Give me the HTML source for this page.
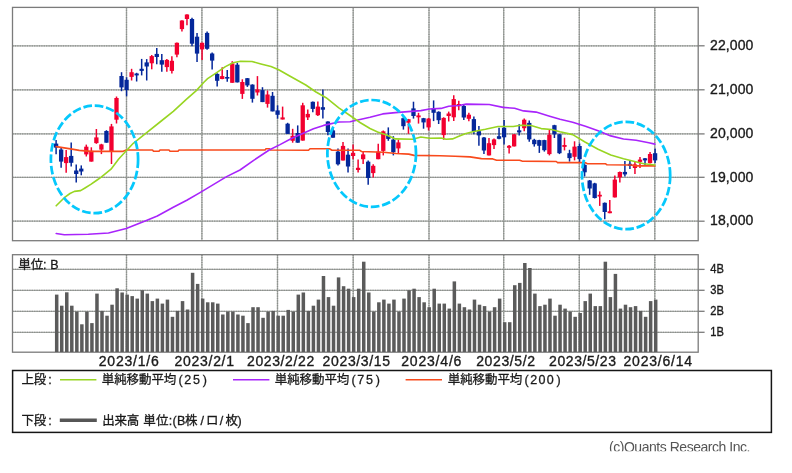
<!DOCTYPE html>
<html lang="ja"><head><meta charset="utf-8"><title>chart</title>
<style>html,body{margin:0;padding:0;background:#fff;overflow:hidden}body{width:792px;height:473px;position:relative}</style></head>
<body>
<svg width="792" height="473" viewBox="0 0 792 473" style="position:absolute;left:0;top:0;display:block;filter:blur(0.3px)">
<rect x="0" y="0" width="792" height="473" fill="#fff"/>
<g stroke="#a6a8a6" stroke-width="1.3" fill="none">
<line x1="12.5" y1="45.8" x2="698.2" y2="45.8"/>
<line x1="12.5" y1="89.8" x2="698.2" y2="89.8"/>
<line x1="12.5" y1="133.9" x2="698.2" y2="133.9"/>
<line x1="12.5" y1="177.3" x2="698.2" y2="177.3"/>
<line x1="12.5" y1="221.2" x2="698.2" y2="221.2"/>
<line x1="12.5" y1="269.4" x2="698.2" y2="269.4"/>
<line x1="12.5" y1="290.3" x2="698.2" y2="290.3"/>
<line x1="12.5" y1="311.3" x2="698.2" y2="311.3"/>
<line x1="12.5" y1="332.3" x2="698.2" y2="332.3"/>
<line x1="126.5" y1="7.4" x2="126.5" y2="240.7"/>
<line x1="126.5" y1="254.7" x2="126.5" y2="352.2"/>
<line x1="201.9" y1="7.4" x2="201.9" y2="240.7"/>
<line x1="201.9" y1="254.7" x2="201.9" y2="352.2"/>
<line x1="277.5" y1="7.4" x2="277.5" y2="240.7"/>
<line x1="277.5" y1="254.7" x2="277.5" y2="352.2"/>
<line x1="353.2" y1="7.4" x2="353.2" y2="240.7"/>
<line x1="353.2" y1="254.7" x2="353.2" y2="352.2"/>
<line x1="429.0" y1="7.4" x2="429.0" y2="240.7"/>
<line x1="429.0" y1="254.7" x2="429.0" y2="352.2"/>
<line x1="503.7" y1="7.4" x2="503.7" y2="240.7"/>
<line x1="503.7" y1="254.7" x2="503.7" y2="352.2"/>
<line x1="579.3" y1="7.4" x2="579.3" y2="240.7"/>
<line x1="579.3" y1="254.7" x2="579.3" y2="352.2"/>
<line x1="654.8" y1="7.4" x2="654.8" y2="240.7"/>
<line x1="654.8" y1="254.7" x2="654.8" y2="352.2"/>
</g>
<g stroke="#8b908b" stroke-width="1.3" fill="none" stroke-dasharray="1.2 1.2">
<line x1="12.5" y1="45.8" x2="698.2" y2="45.8"/>
<line x1="12.5" y1="89.8" x2="698.2" y2="89.8"/>
<line x1="12.5" y1="133.9" x2="698.2" y2="133.9"/>
<line x1="12.5" y1="177.3" x2="698.2" y2="177.3"/>
<line x1="12.5" y1="221.2" x2="698.2" y2="221.2"/>
<line x1="12.5" y1="269.4" x2="698.2" y2="269.4"/>
<line x1="12.5" y1="290.3" x2="698.2" y2="290.3"/>
<line x1="12.5" y1="311.3" x2="698.2" y2="311.3"/>
<line x1="12.5" y1="332.3" x2="698.2" y2="332.3"/>
<line x1="126.5" y1="7.4" x2="126.5" y2="240.7"/>
<line x1="126.5" y1="254.7" x2="126.5" y2="352.2"/>
<line x1="201.9" y1="7.4" x2="201.9" y2="240.7"/>
<line x1="201.9" y1="254.7" x2="201.9" y2="352.2"/>
<line x1="277.5" y1="7.4" x2="277.5" y2="240.7"/>
<line x1="277.5" y1="254.7" x2="277.5" y2="352.2"/>
<line x1="353.2" y1="7.4" x2="353.2" y2="240.7"/>
<line x1="353.2" y1="254.7" x2="353.2" y2="352.2"/>
<line x1="429.0" y1="7.4" x2="429.0" y2="240.7"/>
<line x1="429.0" y1="254.7" x2="429.0" y2="352.2"/>
<line x1="503.7" y1="7.4" x2="503.7" y2="240.7"/>
<line x1="503.7" y1="254.7" x2="503.7" y2="352.2"/>
<line x1="579.3" y1="7.4" x2="579.3" y2="240.7"/>
<line x1="579.3" y1="254.7" x2="579.3" y2="352.2"/>
<line x1="654.8" y1="7.4" x2="654.8" y2="240.7"/>
<line x1="654.8" y1="254.7" x2="654.8" y2="352.2"/>
</g>
<g stroke="#7b7b7b" stroke-width="1.3" fill="none">
<line x1="698.2" y1="45.8" x2="704.6" y2="45.8"/>
<line x1="698.2" y1="89.8" x2="704.6" y2="89.8"/>
<line x1="698.2" y1="133.9" x2="704.6" y2="133.9"/>
<line x1="698.2" y1="177.3" x2="704.6" y2="177.3"/>
<line x1="698.2" y1="221.2" x2="704.6" y2="221.2"/>
<line x1="698.2" y1="269.4" x2="704.6" y2="269.4"/>
<line x1="698.2" y1="290.3" x2="704.6" y2="290.3"/>
<line x1="698.2" y1="311.3" x2="704.6" y2="311.3"/>
<line x1="698.2" y1="332.3" x2="704.6" y2="332.3"/>
<rect x="12.5" y="7.4" width="685.7" height="233.29999999999998"/>
<rect x="12.5" y="254.7" width="685.7" height="97.5"/>
</g>
<g fill="#5b5b5b">
<rect x="54.95" y="294.6" width="3.5" height="57.4"/>
<rect x="59.98" y="305.7" width="3.5" height="46.3"/>
<rect x="65.02" y="292.3" width="3.5" height="59.7"/>
<rect x="70.05" y="305.7" width="3.5" height="46.3"/>
<rect x="75.08" y="311.6" width="3.5" height="40.4"/>
<rect x="80.12" y="324.3" width="3.5" height="27.7"/>
<rect x="85.15" y="311.6" width="3.5" height="40.4"/>
<rect x="90.18" y="323.1" width="3.5" height="28.9"/>
<rect x="95.22" y="293.6" width="3.5" height="58.4"/>
<rect x="100.25" y="310.9" width="3.5" height="41.1"/>
<rect x="105.28" y="315.7" width="3.5" height="36.3"/>
<rect x="110.32" y="304.7" width="3.5" height="47.3"/>
<rect x="115.35" y="288.3" width="3.5" height="63.7"/>
<rect x="120.39" y="292.5" width="3.5" height="59.5"/>
<rect x="125.42" y="294.6" width="3.5" height="57.4"/>
<rect x="130.45" y="296.1" width="3.5" height="55.9"/>
<rect x="135.49" y="298.6" width="3.5" height="53.4"/>
<rect x="140.52" y="290.2" width="3.5" height="61.8"/>
<rect x="145.55" y="293.6" width="3.5" height="58.4"/>
<rect x="150.59" y="301.1" width="3.5" height="50.9"/>
<rect x="155.62" y="298.6" width="3.5" height="53.4"/>
<rect x="160.65" y="303.6" width="3.5" height="48.4"/>
<rect x="165.69" y="299.6" width="3.5" height="52.4"/>
<rect x="170.72" y="316.8" width="3.5" height="35.2"/>
<rect x="175.75" y="310.9" width="3.5" height="41.1"/>
<rect x="180.79" y="301.1" width="3.5" height="50.9"/>
<rect x="185.82" y="309.5" width="3.5" height="42.5"/>
<rect x="190.85" y="272.8" width="3.5" height="79.2"/>
<rect x="195.89" y="283.9" width="3.5" height="68.1"/>
<rect x="200.92" y="298.6" width="3.5" height="53.4"/>
<rect x="205.95" y="302.3" width="3.5" height="49.7"/>
<rect x="210.99" y="302.3" width="3.5" height="49.7"/>
<rect x="216.02" y="303.6" width="3.5" height="48.4"/>
<rect x="221.06" y="314.5" width="3.5" height="37.5"/>
<rect x="226.09" y="311.6" width="3.5" height="40.4"/>
<rect x="231.12" y="311.6" width="3.5" height="40.4"/>
<rect x="236.16" y="314.5" width="3.5" height="37.5"/>
<rect x="241.19" y="315.7" width="3.5" height="36.3"/>
<rect x="246.22" y="323.1" width="3.5" height="28.9"/>
<rect x="251.26" y="307.2" width="3.5" height="44.8"/>
<rect x="256.29" y="307.2" width="3.5" height="44.8"/>
<rect x="261.32" y="317.8" width="3.5" height="34.2"/>
<rect x="266.36" y="311.6" width="3.5" height="40.4"/>
<rect x="271.39" y="310.9" width="3.5" height="41.1"/>
<rect x="276.42" y="315.7" width="3.5" height="36.3"/>
<rect x="281.46" y="315.7" width="3.5" height="36.3"/>
<rect x="286.49" y="309.9" width="3.5" height="42.1"/>
<rect x="291.52" y="311.6" width="3.5" height="40.4"/>
<rect x="296.56" y="294.6" width="3.5" height="57.4"/>
<rect x="301.59" y="292.5" width="3.5" height="59.5"/>
<rect x="306.63" y="310.9" width="3.5" height="41.1"/>
<rect x="311.66" y="305.7" width="3.5" height="46.3"/>
<rect x="316.69" y="299.6" width="3.5" height="52.4"/>
<rect x="321.73" y="276.0" width="3.5" height="76.0"/>
<rect x="326.76" y="297.1" width="3.5" height="54.9"/>
<rect x="331.79" y="305.7" width="3.5" height="46.3"/>
<rect x="336.83" y="277.4" width="3.5" height="74.6"/>
<rect x="341.86" y="286.2" width="3.5" height="65.8"/>
<rect x="346.89" y="288.7" width="3.5" height="63.3"/>
<rect x="351.93" y="297.1" width="3.5" height="54.9"/>
<rect x="356.96" y="288.7" width="3.5" height="63.3"/>
<rect x="361.99" y="261.7" width="3.5" height="90.3"/>
<rect x="367.03" y="292.5" width="3.5" height="59.5"/>
<rect x="372.06" y="311.6" width="3.5" height="40.4"/>
<rect x="377.09" y="302.3" width="3.5" height="49.7"/>
<rect x="382.13" y="299.6" width="3.5" height="52.4"/>
<rect x="387.16" y="303.6" width="3.5" height="48.4"/>
<rect x="392.19" y="299.6" width="3.5" height="52.4"/>
<rect x="397.23" y="311.6" width="3.5" height="40.4"/>
<rect x="402.26" y="298.6" width="3.5" height="53.4"/>
<rect x="407.30" y="290.2" width="3.5" height="61.8"/>
<rect x="412.33" y="288.7" width="3.5" height="63.3"/>
<rect x="417.36" y="297.1" width="3.5" height="54.9"/>
<rect x="422.40" y="302.3" width="3.5" height="49.7"/>
<rect x="427.43" y="307.2" width="3.5" height="44.8"/>
<rect x="432.46" y="288.7" width="3.5" height="63.3"/>
<rect x="437.50" y="303.6" width="3.5" height="48.4"/>
<rect x="442.53" y="303.6" width="3.5" height="48.4"/>
<rect x="447.56" y="308.6" width="3.5" height="43.4"/>
<rect x="452.60" y="281.4" width="3.5" height="70.6"/>
<rect x="457.63" y="303.6" width="3.5" height="48.4"/>
<rect x="462.66" y="307.2" width="3.5" height="44.8"/>
<rect x="467.70" y="309.5" width="3.5" height="42.5"/>
<rect x="472.73" y="299.6" width="3.5" height="52.4"/>
<rect x="477.76" y="304.7" width="3.5" height="47.3"/>
<rect x="482.80" y="306.1" width="3.5" height="45.9"/>
<rect x="487.83" y="311.6" width="3.5" height="40.4"/>
<rect x="492.86" y="307.2" width="3.5" height="44.8"/>
<rect x="497.90" y="298.6" width="3.5" height="53.4"/>
<rect x="502.93" y="322.2" width="3.5" height="29.8"/>
<rect x="507.97" y="322.2" width="3.5" height="29.8"/>
<rect x="513.00" y="285.2" width="3.5" height="66.8"/>
<rect x="518.03" y="282.9" width="3.5" height="69.1"/>
<rect x="523.07" y="263.0" width="3.5" height="89.0"/>
<rect x="528.10" y="268.0" width="3.5" height="84.0"/>
<rect x="533.13" y="293.6" width="3.5" height="58.4"/>
<rect x="538.17" y="306.1" width="3.5" height="45.9"/>
<rect x="543.20" y="304.7" width="3.5" height="47.3"/>
<rect x="548.23" y="298.6" width="3.5" height="53.4"/>
<rect x="553.27" y="315.7" width="3.5" height="36.3"/>
<rect x="558.30" y="304.7" width="3.5" height="47.3"/>
<rect x="563.33" y="308.6" width="3.5" height="43.4"/>
<rect x="568.37" y="311.6" width="3.5" height="40.4"/>
<rect x="573.40" y="316.8" width="3.5" height="35.2"/>
<rect x="578.43" y="313.0" width="3.5" height="39.0"/>
<rect x="583.47" y="301.1" width="3.5" height="50.9"/>
<rect x="588.50" y="293.6" width="3.5" height="58.4"/>
<rect x="593.53" y="306.1" width="3.5" height="45.9"/>
<rect x="598.57" y="306.1" width="3.5" height="45.9"/>
<rect x="603.60" y="261.7" width="3.5" height="90.3"/>
<rect x="608.64" y="297.1" width="3.5" height="54.9"/>
<rect x="613.67" y="273.9" width="3.5" height="78.1"/>
<rect x="618.70" y="308.6" width="3.5" height="43.4"/>
<rect x="623.74" y="304.7" width="3.5" height="47.3"/>
<rect x="628.77" y="307.2" width="3.5" height="44.8"/>
<rect x="633.80" y="306.1" width="3.5" height="45.9"/>
<rect x="638.84" y="310.9" width="3.5" height="41.1"/>
<rect x="643.87" y="316.8" width="3.5" height="35.2"/>
<rect x="648.90" y="301.1" width="3.5" height="50.9"/>
<rect x="653.94" y="299.6" width="3.5" height="52.4"/>
</g>
<line x1="56.10" y1="140.0" x2="56.10" y2="154.2" stroke="#04279a" stroke-width="1.5"/>
<rect x="53.95" y="143.6" width="4.3" height="4.0" fill="#04279a"/>
<line x1="61.13" y1="147.6" x2="61.13" y2="167.7" stroke="#04279a" stroke-width="1.5"/>
<rect x="58.98" y="149.5" width="4.3" height="12.1" fill="#04279a"/>
<line x1="66.17" y1="150.0" x2="66.17" y2="172.7" stroke="#f2002f" stroke-width="1.5"/>
<rect x="64.02" y="157.1" width="4.3" height="6.0" fill="#f2002f"/>
<line x1="71.20" y1="142.4" x2="71.20" y2="166.4" stroke="#04279a" stroke-width="1.5"/>
<rect x="69.05" y="155.9" width="4.3" height="6.9" fill="#04279a"/>
<line x1="76.23" y1="164.4" x2="76.23" y2="182.5" stroke="#04279a" stroke-width="1.5"/>
<rect x="74.08" y="170.5" width="4.3" height="3.5" fill="#04279a"/>
<line x1="81.27" y1="165.4" x2="81.27" y2="175.3" stroke="#04279a" stroke-width="1.5"/>
<rect x="79.12" y="168.6" width="4.3" height="2.9" fill="#04279a"/>
<line x1="86.30" y1="144.6" x2="86.30" y2="156.5" stroke="#f2002f" stroke-width="1.5"/>
<rect x="84.15" y="146.7" width="4.3" height="7.7" fill="#f2002f"/>
<line x1="91.33" y1="147.3" x2="91.33" y2="161.6" stroke="#f2002f" stroke-width="1.5"/>
<rect x="89.18" y="150.8" width="4.3" height="10.8" fill="#f2002f"/>
<line x1="96.37" y1="129.0" x2="96.37" y2="143.8" stroke="#f2002f" stroke-width="1.5"/>
<rect x="94.22" y="137.4" width="4.3" height="5.7" fill="#f2002f"/>
<line x1="101.40" y1="143.8" x2="101.40" y2="154.1" stroke="#f2002f" stroke-width="1.5"/>
<rect x="99.25" y="144.4" width="4.3" height="5.2" fill="#f2002f"/>
<line x1="106.44" y1="130.2" x2="106.44" y2="142.7" stroke="#04279a" stroke-width="1.5"/>
<rect x="104.28" y="131.0" width="4.3" height="11.7" fill="#04279a"/>
<line x1="111.47" y1="123.9" x2="111.47" y2="164.0" stroke="#f2002f" stroke-width="1.5"/>
<rect x="109.32" y="126.4" width="4.3" height="25.6" fill="#f2002f"/>
<line x1="116.50" y1="96.5" x2="116.50" y2="123.5" stroke="#f2002f" stroke-width="1.5"/>
<rect x="114.35" y="98.0" width="4.3" height="21.7" fill="#f2002f"/>
<line x1="121.54" y1="72.2" x2="121.54" y2="91.2" stroke="#04279a" stroke-width="1.5"/>
<rect x="119.39" y="76.0" width="4.3" height="11.4" fill="#04279a"/>
<line x1="126.57" y1="77.3" x2="126.57" y2="96.3" stroke="#04279a" stroke-width="1.5"/>
<rect x="124.42" y="79.8" width="4.3" height="10.2" fill="#04279a"/>
<line x1="131.60" y1="68.8" x2="131.60" y2="80.5" stroke="#f2002f" stroke-width="1.5"/>
<rect x="129.45" y="72.2" width="4.3" height="4.7" fill="#f2002f"/>
<line x1="136.64" y1="72.8" x2="136.64" y2="81.5" stroke="#04279a" stroke-width="1.5"/>
<rect x="134.49" y="73.5" width="4.3" height="1.9" fill="#04279a"/>
<line x1="141.67" y1="58.9" x2="141.67" y2="75.4" stroke="#04279a" stroke-width="1.5"/>
<rect x="139.52" y="68.8" width="4.3" height="2.1" fill="#04279a"/>
<line x1="146.70" y1="59.1" x2="146.70" y2="80.5" stroke="#04279a" stroke-width="1.5"/>
<rect x="144.55" y="62.4" width="4.3" height="4.1" fill="#04279a"/>
<line x1="151.74" y1="55.0" x2="151.74" y2="69.3" stroke="#f2002f" stroke-width="1.5"/>
<rect x="149.59" y="56.1" width="4.3" height="7.2" fill="#f2002f"/>
<line x1="156.77" y1="48.1" x2="156.77" y2="64.2" stroke="#04279a" stroke-width="1.5"/>
<rect x="154.62" y="53.9" width="4.3" height="3.1" fill="#04279a"/>
<line x1="161.80" y1="54.0" x2="161.80" y2="71.8" stroke="#04279a" stroke-width="1.5"/>
<rect x="159.65" y="60.2" width="4.3" height="4.4" fill="#04279a"/>
<line x1="166.84" y1="58.9" x2="166.84" y2="71.8" stroke="#f2002f" stroke-width="1.5"/>
<rect x="164.69" y="59.9" width="4.3" height="7.2" fill="#f2002f"/>
<line x1="171.87" y1="56.3" x2="171.87" y2="73.5" stroke="#f2002f" stroke-width="1.5"/>
<rect x="169.72" y="60.8" width="4.3" height="10.1" fill="#f2002f"/>
<line x1="176.90" y1="42.5" x2="176.90" y2="57.3" stroke="#f2002f" stroke-width="1.5"/>
<rect x="174.75" y="42.8" width="4.3" height="11.8" fill="#f2002f"/>
<line x1="181.94" y1="20.2" x2="181.94" y2="31.6" stroke="#f2002f" stroke-width="1.5"/>
<rect x="179.79" y="20.5" width="4.3" height="8.6" fill="#f2002f"/>
<line x1="186.97" y1="14.3" x2="186.97" y2="25.3" stroke="#f2002f" stroke-width="1.5"/>
<rect x="184.82" y="14.5" width="4.3" height="4.5" fill="#f2002f"/>
<line x1="192.00" y1="17.7" x2="192.00" y2="46.2" stroke="#04279a" stroke-width="1.5"/>
<rect x="189.85" y="19.0" width="4.3" height="24.7" fill="#04279a"/>
<line x1="197.04" y1="32.9" x2="197.04" y2="62.0" stroke="#04279a" stroke-width="1.5"/>
<rect x="194.89" y="36.7" width="4.3" height="16.9" fill="#04279a"/>
<line x1="202.07" y1="42.5" x2="202.07" y2="60.0" stroke="#f2002f" stroke-width="1.5"/>
<rect x="199.92" y="42.8" width="4.3" height="6.6" fill="#f2002f"/>
<line x1="207.10" y1="31.6" x2="207.10" y2="49.7" stroke="#04279a" stroke-width="1.5"/>
<rect x="204.95" y="32.9" width="4.3" height="15.9" fill="#04279a"/>
<line x1="212.14" y1="52.6" x2="212.14" y2="69.4" stroke="#04279a" stroke-width="1.5"/>
<rect x="209.99" y="53.5" width="4.3" height="7.1" fill="#04279a"/>
<line x1="217.17" y1="73.2" x2="217.17" y2="86.6" stroke="#04279a" stroke-width="1.5"/>
<rect x="215.02" y="73.9" width="4.3" height="6.9" fill="#04279a"/>
<line x1="222.21" y1="67.2" x2="222.21" y2="79.3" stroke="#f2002f" stroke-width="1.5"/>
<rect x="220.06" y="76.1" width="4.3" height="2.9" fill="#f2002f"/>
<line x1="227.24" y1="70.1" x2="227.24" y2="81.8" stroke="#04279a" stroke-width="1.5"/>
<rect x="225.09" y="77.0" width="4.3" height="1.6" fill="#04279a"/>
<line x1="232.27" y1="61.2" x2="232.27" y2="82.8" stroke="#f2002f" stroke-width="1.5"/>
<rect x="230.12" y="63.4" width="4.3" height="19.4" fill="#f2002f"/>
<line x1="237.31" y1="62.8" x2="237.31" y2="82.4" stroke="#04279a" stroke-width="1.5"/>
<rect x="235.16" y="64.7" width="4.3" height="17.7" fill="#04279a"/>
<line x1="242.34" y1="79.3" x2="242.34" y2="98.9" stroke="#f2002f" stroke-width="1.5"/>
<rect x="240.19" y="82.0" width="4.3" height="11.9" fill="#f2002f"/>
<line x1="247.37" y1="78.0" x2="247.37" y2="86.9" stroke="#04279a" stroke-width="1.5"/>
<rect x="245.22" y="78.2" width="4.3" height="7.2" fill="#04279a"/>
<line x1="252.41" y1="84.3" x2="252.41" y2="102.6" stroke="#04279a" stroke-width="1.5"/>
<rect x="250.26" y="84.6" width="4.3" height="14.2" fill="#04279a"/>
<line x1="257.44" y1="76.1" x2="257.44" y2="95.5" stroke="#f2002f" stroke-width="1.5"/>
<rect x="255.29" y="89.4" width="4.3" height="3.1" fill="#f2002f"/>
<line x1="262.47" y1="87.2" x2="262.47" y2="102.1" stroke="#04279a" stroke-width="1.5"/>
<rect x="260.32" y="90.1" width="4.3" height="12.0" fill="#04279a"/>
<line x1="267.51" y1="90.5" x2="267.51" y2="107.6" stroke="#f2002f" stroke-width="1.5"/>
<rect x="265.36" y="94.5" width="4.3" height="9.4" fill="#f2002f"/>
<line x1="272.54" y1="92.0" x2="272.54" y2="111.4" stroke="#04279a" stroke-width="1.5"/>
<rect x="270.39" y="95.8" width="4.3" height="15.6" fill="#04279a"/>
<line x1="277.57" y1="105.3" x2="277.57" y2="118.6" stroke="#04279a" stroke-width="1.5"/>
<rect x="275.42" y="110.4" width="4.3" height="4.4" fill="#04279a"/>
<line x1="282.61" y1="106.6" x2="282.61" y2="119.5" stroke="#f2002f" stroke-width="1.5"/>
<rect x="280.46" y="117.4" width="4.3" height="2.1" fill="#f2002f"/>
<line x1="287.64" y1="122.8" x2="287.64" y2="133.9" stroke="#04279a" stroke-width="1.5"/>
<rect x="285.49" y="123.7" width="4.3" height="10.2" fill="#04279a"/>
<line x1="292.67" y1="128.8" x2="292.67" y2="142.7" stroke="#f2002f" stroke-width="1.5"/>
<rect x="290.52" y="135.8" width="4.3" height="5.0" fill="#f2002f"/>
<line x1="297.71" y1="125.4" x2="297.71" y2="142.7" stroke="#04279a" stroke-width="1.5"/>
<rect x="295.56" y="133.0" width="4.3" height="9.7" fill="#04279a"/>
<line x1="302.74" y1="102.8" x2="302.74" y2="140.6" stroke="#f2002f" stroke-width="1.5"/>
<rect x="300.59" y="105.3" width="4.3" height="35.3" fill="#f2002f"/>
<line x1="307.78" y1="109.4" x2="307.78" y2="119.9" stroke="#f2002f" stroke-width="1.5"/>
<rect x="305.63" y="113.9" width="4.3" height="3.5" fill="#f2002f"/>
<line x1="312.81" y1="101.6" x2="312.81" y2="112.3" stroke="#04279a" stroke-width="1.5"/>
<rect x="310.66" y="101.8" width="4.3" height="7.1" fill="#04279a"/>
<line x1="317.84" y1="101.5" x2="317.84" y2="116.0" stroke="#f2002f" stroke-width="1.5"/>
<rect x="315.69" y="106.6" width="4.3" height="8.6" fill="#f2002f"/>
<line x1="322.88" y1="89.4" x2="322.88" y2="118.6" stroke="#04279a" stroke-width="1.5"/>
<rect x="320.73" y="107.2" width="4.3" height="2.5" fill="#04279a"/>
<line x1="327.91" y1="121.2" x2="327.91" y2="135.3" stroke="#04279a" stroke-width="1.5"/>
<rect x="325.76" y="121.5" width="4.3" height="10.5" fill="#04279a"/>
<line x1="332.94" y1="128.1" x2="332.94" y2="137.7" stroke="#04279a" stroke-width="1.5"/>
<rect x="330.79" y="130.4" width="4.3" height="7.3" fill="#04279a"/>
<line x1="337.98" y1="148.4" x2="337.98" y2="165.5" stroke="#04279a" stroke-width="1.5"/>
<rect x="335.83" y="151.6" width="4.3" height="12.7" fill="#04279a"/>
<line x1="343.01" y1="142.0" x2="343.01" y2="160.5" stroke="#f2002f" stroke-width="1.5"/>
<rect x="340.86" y="145.9" width="4.3" height="14.6" fill="#f2002f"/>
<line x1="348.04" y1="148.4" x2="348.04" y2="172.5" stroke="#04279a" stroke-width="1.5"/>
<rect x="345.89" y="154.7" width="4.3" height="11.8" fill="#04279a"/>
<line x1="353.08" y1="144.6" x2="353.08" y2="159.2" stroke="#f2002f" stroke-width="1.5"/>
<rect x="350.93" y="152.8" width="4.3" height="3.2" fill="#f2002f"/>
<line x1="358.11" y1="159.4" x2="358.11" y2="172.5" stroke="#f2002f" stroke-width="1.5"/>
<rect x="355.96" y="167.8" width="4.3" height="2.2" fill="#f2002f"/>
<line x1="363.14" y1="151.6" x2="363.14" y2="164.0" stroke="#f2002f" stroke-width="1.5"/>
<rect x="360.99" y="154.4" width="4.3" height="4.8" fill="#f2002f"/>
<line x1="368.18" y1="160.5" x2="368.18" y2="184.8" stroke="#04279a" stroke-width="1.5"/>
<rect x="366.03" y="161.7" width="4.3" height="16.3" fill="#04279a"/>
<line x1="373.21" y1="164.3" x2="373.21" y2="177.6" stroke="#f2002f" stroke-width="1.5"/>
<rect x="371.06" y="165.8" width="4.3" height="7.3" fill="#f2002f"/>
<line x1="378.24" y1="143.8" x2="378.24" y2="159.2" stroke="#f2002f" stroke-width="1.5"/>
<rect x="376.09" y="151.6" width="4.3" height="7.6" fill="#f2002f"/>
<line x1="383.28" y1="130.5" x2="383.28" y2="155.4" stroke="#f2002f" stroke-width="1.5"/>
<rect x="381.13" y="131.3" width="4.3" height="19.6" fill="#f2002f"/>
<line x1="388.31" y1="127.4" x2="388.31" y2="140.8" stroke="#04279a" stroke-width="1.5"/>
<rect x="386.16" y="135.7" width="4.3" height="3.2" fill="#04279a"/>
<line x1="393.34" y1="136.2" x2="393.34" y2="155.4" stroke="#04279a" stroke-width="1.5"/>
<rect x="391.19" y="139.6" width="4.3" height="12.6" fill="#04279a"/>
<line x1="398.38" y1="139.6" x2="398.38" y2="153.5" stroke="#f2002f" stroke-width="1.5"/>
<rect x="396.23" y="142.4" width="4.3" height="6.0" fill="#f2002f"/>
<line x1="403.41" y1="117.3" x2="403.41" y2="129.6" stroke="#04279a" stroke-width="1.5"/>
<rect x="401.26" y="118.2" width="4.3" height="8.0" fill="#04279a"/>
<line x1="408.45" y1="118.9" x2="408.45" y2="133.8" stroke="#f2002f" stroke-width="1.5"/>
<rect x="406.30" y="119.2" width="4.3" height="3.5" fill="#f2002f"/>
<line x1="413.48" y1="101.7" x2="413.48" y2="118.6" stroke="#04279a" stroke-width="1.5"/>
<rect x="411.33" y="108.4" width="4.3" height="7.6" fill="#04279a"/>
<line x1="418.51" y1="112.8" x2="418.51" y2="123.6" stroke="#f2002f" stroke-width="1.5"/>
<rect x="416.36" y="115.4" width="4.3" height="1.9" fill="#f2002f"/>
<line x1="423.55" y1="117.9" x2="423.55" y2="128.7" stroke="#04279a" stroke-width="1.5"/>
<rect x="421.40" y="118.2" width="4.3" height="4.2" fill="#04279a"/>
<line x1="428.58" y1="117.9" x2="428.58" y2="130.4" stroke="#f2002f" stroke-width="1.5"/>
<rect x="426.43" y="118.6" width="4.3" height="8.8" fill="#f2002f"/>
<line x1="433.61" y1="100.4" x2="433.61" y2="121.1" stroke="#04279a" stroke-width="1.5"/>
<rect x="431.46" y="108.4" width="4.3" height="4.4" fill="#04279a"/>
<line x1="438.65" y1="111.3" x2="438.65" y2="124.0" stroke="#04279a" stroke-width="1.5"/>
<rect x="436.50" y="111.8" width="4.3" height="8.4" fill="#04279a"/>
<line x1="443.68" y1="117.3" x2="443.68" y2="139.7" stroke="#f2002f" stroke-width="1.5"/>
<rect x="441.53" y="117.9" width="4.3" height="17.2" fill="#f2002f"/>
<line x1="448.71" y1="111.6" x2="448.71" y2="121.5" stroke="#f2002f" stroke-width="1.5"/>
<rect x="446.56" y="113.5" width="4.3" height="2.5" fill="#f2002f"/>
<line x1="453.75" y1="95.3" x2="453.75" y2="121.1" stroke="#f2002f" stroke-width="1.5"/>
<rect x="451.60" y="99.1" width="4.3" height="18.2" fill="#f2002f"/>
<line x1="458.78" y1="100.8" x2="458.78" y2="110.3" stroke="#f2002f" stroke-width="1.5"/>
<rect x="456.63" y="104.0" width="4.3" height="2.2" fill="#f2002f"/>
<line x1="463.81" y1="105.0" x2="463.81" y2="120.0" stroke="#04279a" stroke-width="1.5"/>
<rect x="461.66" y="106.0" width="4.3" height="11.5" fill="#04279a"/>
<line x1="468.85" y1="112.8" x2="468.85" y2="121.2" stroke="#f2002f" stroke-width="1.5"/>
<rect x="466.70" y="114.7" width="4.3" height="4.1" fill="#f2002f"/>
<line x1="473.88" y1="116.6" x2="473.88" y2="134.3" stroke="#04279a" stroke-width="1.5"/>
<rect x="471.73" y="119.1" width="4.3" height="12.1" fill="#04279a"/>
<line x1="478.91" y1="126.1" x2="478.91" y2="145.7" stroke="#04279a" stroke-width="1.5"/>
<rect x="476.76" y="131.2" width="4.3" height="4.2" fill="#04279a"/>
<line x1="483.95" y1="137.0" x2="483.95" y2="154.1" stroke="#04279a" stroke-width="1.5"/>
<rect x="481.80" y="137.5" width="4.3" height="13.0" fill="#04279a"/>
<line x1="488.98" y1="137.9" x2="488.98" y2="155.4" stroke="#f2002f" stroke-width="1.5"/>
<rect x="486.83" y="143.2" width="4.3" height="12.2" fill="#f2002f"/>
<line x1="494.01" y1="138.4" x2="494.01" y2="149.0" stroke="#f2002f" stroke-width="1.5"/>
<rect x="491.86" y="139.4" width="4.3" height="5.7" fill="#f2002f"/>
<line x1="499.05" y1="127.7" x2="499.05" y2="139.3" stroke="#04279a" stroke-width="1.5"/>
<rect x="496.90" y="136.2" width="4.3" height="2.6" fill="#04279a"/>
<line x1="504.08" y1="120.1" x2="504.08" y2="144.5" stroke="#04279a" stroke-width="1.5"/>
<rect x="501.93" y="127.7" width="4.3" height="9.6" fill="#04279a"/>
<line x1="509.12" y1="145.0" x2="509.12" y2="153.5" stroke="#f2002f" stroke-width="1.5"/>
<rect x="506.97" y="145.8" width="4.3" height="2.0" fill="#f2002f"/>
<line x1="514.15" y1="134.0" x2="514.15" y2="146.4" stroke="#f2002f" stroke-width="1.5"/>
<rect x="512.00" y="134.3" width="4.3" height="12.1" fill="#f2002f"/>
<line x1="519.18" y1="124.2" x2="519.18" y2="135.6" stroke="#04279a" stroke-width="1.5"/>
<rect x="517.03" y="130.3" width="4.3" height="2.1" fill="#04279a"/>
<line x1="524.22" y1="118.5" x2="524.22" y2="131.2" stroke="#f2002f" stroke-width="1.5"/>
<rect x="522.07" y="119.7" width="4.3" height="8.5" fill="#f2002f"/>
<line x1="529.25" y1="120.4" x2="529.25" y2="141.7" stroke="#04279a" stroke-width="1.5"/>
<rect x="527.10" y="122.9" width="4.3" height="16.5" fill="#04279a"/>
<line x1="534.28" y1="138.8" x2="534.28" y2="146.6" stroke="#04279a" stroke-width="1.5"/>
<rect x="532.13" y="139.8" width="4.3" height="4.4" fill="#04279a"/>
<line x1="539.32" y1="139.8" x2="539.32" y2="152.9" stroke="#04279a" stroke-width="1.5"/>
<rect x="537.17" y="140.1" width="4.3" height="5.7" fill="#04279a"/>
<line x1="544.35" y1="139.8" x2="544.35" y2="151.6" stroke="#04279a" stroke-width="1.5"/>
<rect x="542.20" y="140.1" width="4.3" height="10.1" fill="#04279a"/>
<line x1="549.38" y1="129.9" x2="549.38" y2="155.4" stroke="#f2002f" stroke-width="1.5"/>
<rect x="547.23" y="134.7" width="4.3" height="19.4" fill="#f2002f"/>
<line x1="554.42" y1="124.8" x2="554.42" y2="138.0" stroke="#04279a" stroke-width="1.5"/>
<rect x="552.27" y="125.2" width="4.3" height="9.1" fill="#04279a"/>
<line x1="559.45" y1="134.0" x2="559.45" y2="154.1" stroke="#04279a" stroke-width="1.5"/>
<rect x="557.30" y="134.3" width="4.3" height="18.9" fill="#04279a"/>
<line x1="564.48" y1="137.7" x2="564.48" y2="150.4" stroke="#f2002f" stroke-width="1.5"/>
<rect x="562.33" y="145.0" width="4.3" height="1.9" fill="#f2002f"/>
<line x1="569.52" y1="149.8" x2="569.52" y2="161.6" stroke="#04279a" stroke-width="1.5"/>
<rect x="567.37" y="153.2" width="4.3" height="4.9" fill="#04279a"/>
<line x1="574.55" y1="141.3" x2="574.55" y2="160.4" stroke="#f2002f" stroke-width="1.5"/>
<rect x="572.40" y="146.6" width="4.3" height="10.2" fill="#f2002f"/>
<line x1="579.58" y1="143.5" x2="579.58" y2="161.9" stroke="#04279a" stroke-width="1.5"/>
<rect x="577.43" y="146.0" width="4.3" height="13.1" fill="#04279a"/>
<line x1="584.62" y1="163.2" x2="584.62" y2="176.5" stroke="#04279a" stroke-width="1.5"/>
<rect x="582.47" y="165.0" width="4.3" height="7.3" fill="#04279a"/>
<line x1="589.65" y1="180.0" x2="589.65" y2="194.8" stroke="#04279a" stroke-width="1.5"/>
<rect x="587.50" y="180.5" width="4.3" height="8.0" fill="#04279a"/>
<line x1="594.68" y1="182.8" x2="594.68" y2="198.5" stroke="#04279a" stroke-width="1.5"/>
<rect x="592.53" y="183.4" width="4.3" height="14.6" fill="#04279a"/>
<line x1="599.72" y1="191.4" x2="599.72" y2="205.9" stroke="#f2002f" stroke-width="1.5"/>
<rect x="597.57" y="194.8" width="4.3" height="1.7" fill="#f2002f"/>
<line x1="604.75" y1="202.4" x2="604.75" y2="219.3" stroke="#04279a" stroke-width="1.5"/>
<rect x="602.60" y="202.8" width="4.3" height="9.2" fill="#04279a"/>
<line x1="609.79" y1="199.9" x2="609.79" y2="213.2" stroke="#f2002f" stroke-width="1.5"/>
<rect x="607.64" y="211.3" width="4.3" height="1.9" fill="#f2002f"/>
<line x1="614.82" y1="175.4" x2="614.82" y2="197.4" stroke="#f2002f" stroke-width="1.5"/>
<rect x="612.67" y="179.6" width="4.3" height="17.8" fill="#f2002f"/>
<line x1="619.85" y1="171.6" x2="619.85" y2="182.5" stroke="#f2002f" stroke-width="1.5"/>
<rect x="617.70" y="172.0" width="4.3" height="5.4" fill="#f2002f"/>
<line x1="624.89" y1="161.0" x2="624.89" y2="176.5" stroke="#04279a" stroke-width="1.5"/>
<rect x="622.74" y="171.9" width="4.3" height="2.5" fill="#04279a"/>
<line x1="629.92" y1="160.4" x2="629.92" y2="168.9" stroke="#04279a" stroke-width="1.5"/>
<rect x="627.77" y="163.8" width="4.3" height="2.1" fill="#04279a"/>
<line x1="634.95" y1="161.9" x2="634.95" y2="173.9" stroke="#f2002f" stroke-width="1.5"/>
<rect x="632.80" y="164.4" width="4.3" height="3.6" fill="#f2002f"/>
<line x1="639.99" y1="157.1" x2="639.99" y2="168.0" stroke="#f2002f" stroke-width="1.5"/>
<rect x="637.84" y="159.6" width="4.3" height="2.3" fill="#f2002f"/>
<line x1="645.02" y1="158.0" x2="645.02" y2="165.7" stroke="#04279a" stroke-width="1.5"/>
<rect x="642.87" y="158.3" width="4.3" height="2.1" fill="#04279a"/>
<line x1="650.05" y1="152.0" x2="650.05" y2="163.5" stroke="#f2002f" stroke-width="1.5"/>
<rect x="647.90" y="154.0" width="4.3" height="9.1" fill="#f2002f"/>
<line x1="655.09" y1="148.6" x2="655.09" y2="163.1" stroke="#04279a" stroke-width="1.5"/>
<rect x="652.94" y="153.2" width="4.3" height="7.2" fill="#04279a"/>
<polyline points="56.2,146.6 70.5,148.9 79.3,150.4 90.8,151.4 122.5,151.4 126.3,150.0 152.5,150.0 153.5,151.2 159.0,151.2 160.0,150.0 169.0,150.0 170.0,151.2 178.0,151.2 179.0,150.0 265.0,150.0 266.0,148.8 269.5,148.8 270.5,150.0 308.5,150.2 310.0,148.7 329.5,148.7 332.0,150.2 359.5,150.2 361.5,151.5 383.5,152.2 396.0,153.5 408.8,154.1 414.0,155.4 440.0,155.8 455.0,156.3 470.0,156.9 481.4,158.6 492.8,158.9 496.6,160.2 519.5,160.2 522.0,161.1 556.3,161.5 557.6,162.6 585.4,162.6 587.3,163.8 605.7,163.8 607.0,164.8 631.0,165.0 636.0,165.9 654.9,165.9" fill="none" stroke="#f84a1c" stroke-width="1.6" stroke-linejoin="round" stroke-linecap="round"/>
<polyline points="56.2,233.5 64.3,234.8 88.3,234.3 108.5,233.0 126.2,228.5 146.4,220.4 157.3,216.0 173.3,207.3 186.8,200.2 200.0,192.6 226.6,176.6 240.0,170.0 253.3,160.6 269.2,150.0 280.0,144.6 291.9,138.3 303.3,133.2 313.5,128.8 323.6,125.4 338.8,122.0 350.0,121.8 370.0,117.3 382.7,113.9 395.4,112.6 408.0,111.6 420.8,110.6 429.6,109.0 441.0,108.4 448.7,106.2 458.8,105.5 466.3,104.1 489.2,104.5 503.1,107.4 514.6,108.3 523.5,110.9 536.1,112.1 548.8,115.9 560.0,119.3 572.7,122.3 585.4,126.3 598.1,130.8 610.8,135.9 623.5,139.0 636.1,140.3 648.8,142.8 654.9,144.1" fill="none" stroke="#a824fb" stroke-width="1.6" stroke-linejoin="round" stroke-linecap="round"/>
<polyline points="56.2,205.8 64.3,197.7 70.0,193.5 74.4,191.4 80.6,190.6 85.0,188.0 90.8,184.4 97.1,180.0 100.9,177.4 111.0,169.2 118.7,159.0 126.3,150.8 133.3,143.3 146.7,132.6 160.0,122.0 173.3,111.3 186.3,99.4 196.3,90.6 203.9,82.2 207.6,78.6 215.2,73.6 225.4,66.6 233.0,62.8 240.6,61.2 252.0,61.5 260.9,64.0 271.0,66.6 278.7,69.7 288.8,75.5 300.0,81.8 305.8,85.0 316.0,92.0 326.1,97.7 338.8,107.8 350.0,115.5 360.0,122.5 370.0,128.5 377.6,131.9 386.5,135.0 395.4,138.9 413.1,139.3 420.8,137.0 429.6,138.2 441.0,138.0 446.1,139.2 452.5,138.9 458.8,136.3 465.2,133.8 472.7,131.8 485.4,129.3 498.1,126.5 513.3,126.5 520.9,125.2 531.0,125.5 541.2,128.6 551.4,129.5 560.0,131.8 572.7,134.6 585.4,142.2 598.1,149.2 610.8,154.9 623.5,158.7 633.6,161.2 643.8,163.8 654.9,165.0" fill="none" stroke="#98d522" stroke-width="1.6" stroke-linejoin="round" stroke-linecap="round"/>
<ellipse cx="94.5" cy="159.4" rx="43.6" ry="53.8" fill="none" stroke="#05c8fc" stroke-width="2.75" stroke-dasharray="8.7 2.8"/>
<ellipse cx="371.7" cy="153.4" rx="44.3" ry="53.4" fill="none" stroke="#05c8fc" stroke-width="2.75" stroke-dasharray="8.7 2.8"/>
<ellipse cx="626.1" cy="175.5" rx="44.1" ry="53.7" fill="none" stroke="#05c8fc" stroke-width="2.75" stroke-dasharray="8.7 2.8"/>
<rect x="12.6" y="370.5" width="758.8" height="61.9" fill="none" stroke="#151515" stroke-width="1.5"/>
<line x1="60" y1="379.7" x2="96.4" y2="379.7" stroke="#98d522" stroke-width="1.4"/>
<line x1="233" y1="379.7" x2="269.4" y2="379.7" stroke="#a824fb" stroke-width="1.4"/>
<line x1="405.6" y1="379.7" x2="442" y2="379.7" stroke="#f84a1c" stroke-width="1.4"/>
<line x1="59.8" y1="420.3" x2="96.8" y2="420.3" stroke="#565656" stroke-width="3.4"/>
<g font-family="Liberation Sans, Noto Sans CJK JP, sans-serif" fill="#1a1a1a" stroke="#1a1a1a" stroke-width="0.35" font-size="14">
<text x="710" y="49.9" textLength="43.4" lengthAdjust="spacing">22,000</text>
<text x="710" y="94.0" textLength="43.4" lengthAdjust="spacing">21,000</text>
<text x="710" y="138.1" textLength="43.4" lengthAdjust="spacing">20,000</text>
<text x="710" y="181.5" textLength="43.4" lengthAdjust="spacing">19,000</text>
<text x="710" y="225.4" textLength="43.4" lengthAdjust="spacing">18,000</text>
<text transform="translate(710.2,273.3) scale(0.86,1)" font-size="13">4B</text>
<text transform="translate(710.2,294.2) scale(0.86,1)" font-size="13">3B</text>
<text transform="translate(710.2,315.1) scale(0.86,1)" font-size="13">2B</text>
<text transform="translate(710.2,336.1) scale(0.86,1)" font-size="13">1B</text>
<text x="98.8" y="366.2" textLength="60.0" lengthAdjust="spacing">2023/1/6</text>
<text x="174.6" y="366.2" textLength="59.4" lengthAdjust="spacing">2023/2/1</text>
<text x="247" y="366.2" textLength="67.2" lengthAdjust="spacing">2023/2/22</text>
<text x="322.6" y="366.2" textLength="67.4" lengthAdjust="spacing">2023/3/15</text>
<text x="401.2" y="366.2" textLength="60.2" lengthAdjust="spacing">2023/4/6</text>
<text x="476.2" y="366.2" textLength="58.8" lengthAdjust="spacing">2023/5/2</text>
<text x="549" y="366.2" textLength="67.0" lengthAdjust="spacing">2023/5/23</text>
<text x="623.5" y="366.2" textLength="68.5" lengthAdjust="spacing">2023/6/14</text>
</g>
<g font-family="Liberation Sans, Noto Sans CJK JP, sans-serif" fill="#1a1a1a" stroke="#1a1a1a" stroke-width="0.3" font-size="12.5">
<text y="268.8"><tspan x="18.3" textLength="28.2" lengthAdjust="spacing">単位:</tspan><tspan x="50.2" textLength="7.2" lengthAdjust="spacing">B</tspan></text>
<text y="384.2"><tspan x="21.6" textLength="24.7" lengthAdjust="spacing">上段</tspan><tspan x="48.2" textLength="3.0" lengthAdjust="spacing">:</tspan></text>
<text y="424.7"><tspan x="21.6" textLength="24.7" lengthAdjust="spacing">下段</tspan><tspan x="48.2" textLength="3.0" lengthAdjust="spacing">:</tspan></text>
<text y="384.2"><tspan x="101.8" textLength="74.5" lengthAdjust="spacing">単純移動平均</tspan><tspan x="178.6" textLength="4.2" lengthAdjust="spacing">(</tspan><tspan x="184.3" textLength="15.6" lengthAdjust="spacing">25</tspan><tspan x="202.8" textLength="4.2" lengthAdjust="spacing">)</tspan></text>
<text y="384.2"><tspan x="274.8" textLength="74.5" lengthAdjust="spacing">単純移動平均</tspan><tspan x="351.6" textLength="4.2" lengthAdjust="spacing">(</tspan><tspan x="357.3" textLength="15.6" lengthAdjust="spacing">75</tspan><tspan x="375.8" textLength="4.2" lengthAdjust="spacing">)</tspan></text>
<text y="384.2"><tspan x="447.8" textLength="74.5" lengthAdjust="spacing">単純移動平均</tspan><tspan x="524.6" textLength="4.2" lengthAdjust="spacing">(</tspan><tspan x="530.3" textLength="23.4" lengthAdjust="spacing">200</tspan><tspan x="556.6" textLength="4.2" lengthAdjust="spacing">)</tspan></text>
<text y="424.7"><tspan x="102.2" textLength="37.0" lengthAdjust="spacing">出来高</tspan><tspan x="143.2" textLength="25.3" lengthAdjust="spacing">単位</tspan><tspan x="168.8" textLength="2.6" lengthAdjust="spacing">:</tspan><tspan x="172.6" textLength="3.8" lengthAdjust="spacing">(</tspan><tspan x="177" textLength="6.7" lengthAdjust="spacing">B</tspan><tspan x="185" textLength="14.0" lengthAdjust="spacing">株</tspan><tspan x="200.6" textLength="5.2" lengthAdjust="spacing">/</tspan><tspan x="206" textLength="12.0" lengthAdjust="spacing">ロ</tspan><tspan x="219.8" textLength="5.2" lengthAdjust="spacing">/</tspan><tspan x="225.6" textLength="12.0" lengthAdjust="spacing">枚</tspan><tspan x="237.4" textLength="3.6" lengthAdjust="spacing">)</tspan></text>
</g>
<clipPath id="cc"><rect x="600" y="436" width="170" height="15.2"/></clipPath>
<text font-family="Liberation Sans, Noto Sans CJK JP, sans-serif" clip-path="url(#cc)" x="609" y="451.8" font-size="14" fill="#555" textLength="141.5" lengthAdjust="spacing">(c)Quants Research Inc.</text>
</svg>
</body></html>
